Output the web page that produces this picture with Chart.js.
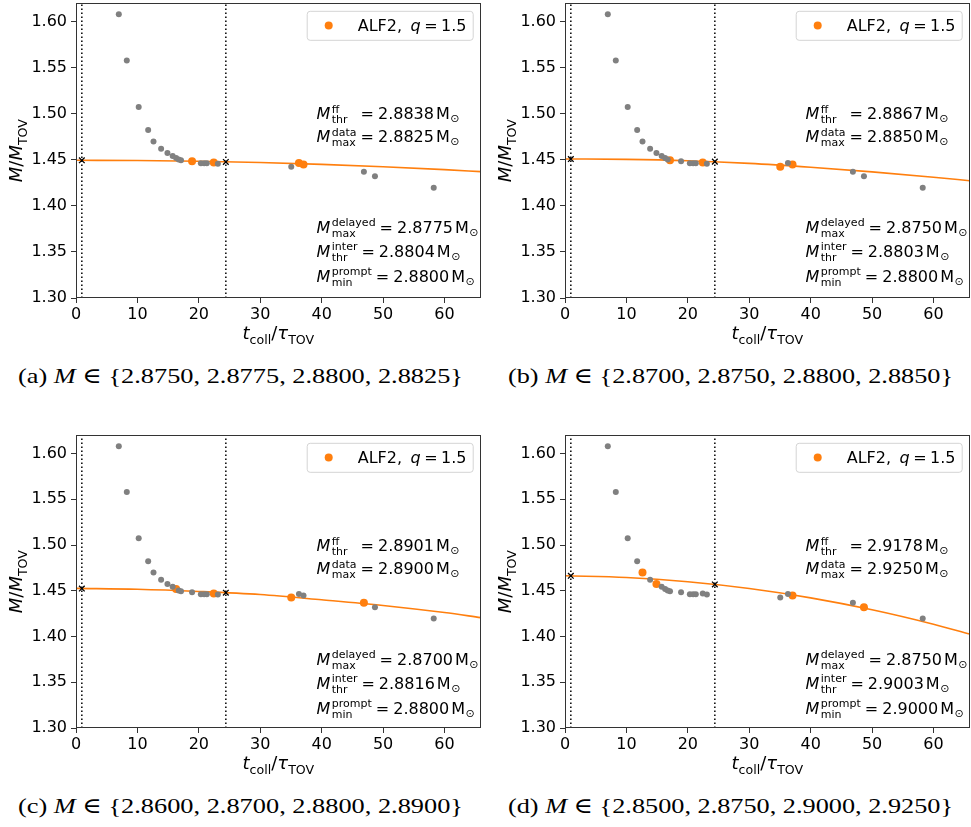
<!DOCTYPE html>
<html>
<head>
<meta charset="utf-8">
<script src="https://cdn.jsdelivr.net/npm/chart.js@4/dist/chart.umd.min.js"></script>
<style>
  html, body { margin: 0; padding: 0; background: #fff; overflow: hidden; width: 971px; height: 827px; }
  canvas.panel { position: absolute; }
  .cap { position: absolute; font-family: "Liberation Serif", "DejaVu Serif", serif; font-size: 22px;
         white-space: nowrap; color: #000; transform-origin: 0 50%; line-height: 26px; }
</style>
</head>
<body>
<canvas id="pa" class="panel"></canvas>
<canvas id="pb" class="panel"></canvas>
<canvas id="pc" class="panel"></canvas>
<canvas id="pd" class="panel"></canvas>
<div id="capa" class="cap"></div>
<div id="capb" class="cap"></div>
<div id="capc" class="cap"></div>
<div id="capd" class="cap"></div>
<script>
// collapse times t_coll / tau_TOV and mass ratios M / M_TOV of every ALF2 q=1.5 run
const tColl = [6.97, 8.27, 10.21, 11.75, 12.62, 13.86, 14.89, 15.74, 16.30, 16.72, 17.10, 18.90,
               20.33, 20.87, 21.30, 22.43, 23.10, 35.05, 36.30, 37.05, 46.88, 48.68, 58.25];
const massRatio = [1.6080, 1.5580, 1.5075, 1.4824, 1.4700, 1.4621, 1.4574, 1.4543, 1.4520, 1.4504, 1.4495, 1.4484,
                   1.4462, 1.4462, 1.4463, 1.4471, 1.4459, 1.4426, 1.4466, 1.4449, 1.4370, 1.4321, 1.4196];

// runs belonging to the mass set of each panel (indices into the arrays above)
const selA = [11, 15, 18, 19];
const selB = [10, 15, 17, 19];
const selC = [8, 15, 17, 20];
const selD = [4, 6, 19, 21];

// fitted curve, sampled along t_coll / tau_TOV
const fitX = [0, 10, 20, 30, 40, 50, 60, 65.9];
const fitA = [1.4495, 1.4493, 1.4485, 1.4471, 1.4451, 1.4425, 1.4394, 1.4372];
const fitB = [1.4510, 1.4505, 1.4490, 1.4462, 1.4420, 1.4370, 1.4312, 1.4273];
const fitC = [1.4527, 1.4517, 1.4493, 1.4459, 1.4402, 1.4340, 1.4262, 1.4207];
const fitD = [1.4665, 1.4646, 1.4599, 1.4525, 1.4423, 1.4293, 1.4135, 1.4028];

// regime boundaries (dotted lines) and the fit value where each crosses the curve
const boundX = [0.95, 24.4];
const crossA = [1.4495, 1.4477];
const crossB = [1.4509, 1.4481];
const crossC = [1.4525, 1.4479];
const crossD = [1.4664, 1.4569];

const xTicks = [0, 10, 20, 30, 40, 50, 60];
const yTicks = [1.30, 1.35, 1.40, 1.45, 1.50, 1.55, 1.60];
const xRange = [0, 65.9];
const yRange = [1.30, 1.62];

// threshold masses printed in each panel
const thrFF      = ['2.8838', '2.8867', '2.8901', '2.9178'];
const maxData    = ['2.8825', '2.8850', '2.8900', '2.9250'];
const maxDelayed = ['2.8775', '2.8750', '2.8700', '2.8750'];
const thrInter   = ['2.8804', '2.8803', '2.8816', '2.9003'];
const minPrompt  = ['2.8800', '2.8800', '2.8800', '2.9000'];

// sub-figure captions
const capLabels = ['(a)', '(b)', '(c)', '(d)'];
const capMasses = [
  ['2.8750', '2.8775', '2.8800', '2.8825'],
  ['2.8700', '2.8750', '2.8800', '2.8850'],
  ['2.8600', '2.8700', '2.8800', '2.8900'],
  ['2.8500', '2.8750', '2.9000', '2.9250']
];
const legendLabel = 'ALF2,';
const legendQ = '1.5';

const ORANGE = '#ff7f0e';
const GRAY = '#808080';
const FONT = '"DejaVu Sans", sans-serif';

function setFont(ctx, size, italic) {
  ctx.font = (italic ? 'oblique ' : '') + size + 'px ' + FONT;
}
function run(ctx, x, y, txt, size, italic) {
  setFont(ctx, size, italic);
  ctx.fillText(txt, x, y);
  return ctx.measureText(txt).width;
}
function widthOf(ctx, txt, size, italic) {
  setFont(ctx, size, italic);
  return ctx.measureText(txt).width;
}
// italic symbol with stacked super/subscript; returns advance
function scripted(ctx, x, y, base, sup, sub, phantom) {
  const w = run(ctx, x, y, base, 16, true) + 1.5;
  const sx = x + w;
  const ws = sup ? widthOf(ctx, sup, 11, false) : 0;
  const wb = sub ? widthOf(ctx, sub, 11, false) : 0;
  const wp = phantom ? widthOf(ctx, phantom, 11, false) : 0;
  setFont(ctx, 11, false);
  if (sup) ctx.fillText(sup, sx, y - 6.5);
  if (sub) ctx.fillText(sub, sx, y + 4);
  return w + Math.max(ws, wb, wp);
}
function massLine(ctx, x, y, sup, sub, val, phantom) {
  let cx = x + scripted(ctx, x, y, 'M', sup, sub, phantom) + 4;
  cx += run(ctx, cx, y, '=', 16, false) + 4;
  cx += run(ctx, cx, y, val, 16, false) + 2;
  cx += run(ctx, cx, y, 'M', 16, false) + 0.5;
  run(ctx, cx, y + 3, '\u2299', 11, false);
}

function makePanel(k, fit, sel, cross) {
  const a = chartRefs[k];
  const points = tColl.map((t, i) => ({ x: t, y: massRatio[i] }));
  const hi = sel.map(i => points[i]);
  const rest = points.filter((p, i) => sel.indexOf(i) < 0);

  const annot = {
    id: 'annot' + k,
    afterDatasetsDraw(chart) {
      const ctx = chart.ctx;
      const ca = chart.chartArea;
      const L = ca.left, R = ca.right, T = ca.top, B = ca.bottom;
      ctx.save();
      // frame
      ctx.strokeStyle = '#333';
      ctx.lineWidth = 1;
      ctx.strokeRect(Math.round(L) + 0.5, Math.round(T) + 0.5, Math.round(R - L) - 1, Math.round(B - T) - 1);

      ctx.fillStyle = '#000';
      ctx.textBaseline = 'alphabetic';
      ctx.textAlign = 'left';
      const mx = L + 240.5;
      massLine(ctx, mx, T + 116, 'ff', 'thr', thrFF[k], 'data');
      massLine(ctx, mx, T + 139, 'data', 'max', maxData[k]);
      massLine(ctx, mx, T + 229.3, 'delayed', 'max', maxDelayed[k]);
      massLine(ctx, mx, T + 253.5, 'inter', 'thr', thrInter[k]);
      massLine(ctx, mx, T + 278.5, 'prompt', 'min', minPrompt[k]);

      // legend
      const bx = R - 174, by = T + 7.5, bw = 166, bh = 29;
      ctx.beginPath();
      ctx.roundRect(bx + 0.5, by + 0.5, bw, bh, 3);
      ctx.fillStyle = 'rgba(255,255,255,0.8)';
      ctx.fill();
      ctx.strokeStyle = '#d4d4d4';
      ctx.lineWidth = 1;
      ctx.stroke();
      ctx.beginPath();
      ctx.arc(R - 152, T + 22.3, 4, 0, Math.PI * 2);
      ctx.fillStyle = ORANGE;
      ctx.fill();
      ctx.fillStyle = '#000';
      let lx = R - 123;
      const ly = T + 27.3;
      lx += run(ctx, lx, ly, legendLabel, 16, false) + 8.5;
      lx += run(ctx, lx, ly, 'q', 16, true) + 3.5;
      lx += run(ctx, lx, ly, '=', 16, false) + 3.5;
      run(ctx, lx, ly, legendQ, 16, false);

      // x axis title
      const xt = [['t', 18, true, 0], ['coll', 12.6, false, 4.5], ['/', 18, false, 0], ['\u03c4', 18, true, 0], ['TOV', 12.6, false, 4.5]];
      let tw = 0;
      xt.forEach(p => { tw += widthOf(ctx, p[0], p[1], p[2]); });
      let tx = (L + R) / 2 - tw / 2;
      xt.forEach(p => { tx += run(ctx, tx, B + 41 + p[3], p[0], p[1], p[2]); });

      // y axis title
      const yt = [['M', 18, true, 0], ['/', 18, false, 0], ['M', 18, true, 0], ['TOV', 12.6, false, 4.5]];
      let yw = 0;
      yt.forEach(p => { yw += widthOf(ctx, p[0], p[1], p[2]); });
      ctx.translate(L - 54, (T + B) / 2);
      ctx.rotate(-Math.PI / 2);
      let ty = -yw / 2;
      yt.forEach(p => { ty += run(ctx, ty, p[3], p[0], p[1], p[2]); });
      ctx.restore();
    }
  };

  const tickFont = { family: FONT, size: 16 };
  return new Chart(document.getElementById(a.id), {
    type: 'scatter',
    data: {
      datasets: [
        { data: boundX.map((x, i) => ({ x: x, y: cross[i] })), pointStyle: 'crossRot', pointRadius: 4,
          borderColor: '#000', backgroundColor: '#000', borderWidth: 1.3, order: 0 },
        { data: [{ x: boundX[0], y: yRange[0] }, { x: boundX[0], y: yRange[1] }], showLine: true, pointRadius: 0,
          borderColor: '#000', borderWidth: 1.5, borderDash: [1.5, 2.5], order: 1 },
        { data: [{ x: boundX[1], y: yRange[0] }, { x: boundX[1], y: yRange[1] }], showLine: true, pointRadius: 0,
          borderColor: '#000', borderWidth: 1.5, borderDash: [1.5, 2.5], order: 1 },
        { data: rest, pointRadius: 3, backgroundColor: GRAY, borderWidth: 0, order: 2 },
        { data: hi, pointRadius: 4, backgroundColor: ORANGE, borderWidth: 0, order: 3 },
        { data: fitX.map((x, i) => ({ x: x, y: fit[i] })), showLine: true, pointRadius: 0,
          borderColor: ORANGE, borderWidth: 1.6, cubicInterpolationMode: 'monotone', order: 4 }
      ]
    },
    options: {
      responsive: false,
      animation: false,
      devicePixelRatio: 1,
      events: [],
      layout: { padding: 0 },
      plugins: { legend: { display: false }, tooltip: { enabled: false } },
      scales: {
        x: {
          type: 'linear', min: xRange[0], max: xRange[1],
          afterBuildTicks: s => { s.ticks = xTicks.map(v => ({ value: v })); },
          afterFit: s => { s.height = 52; s.paddingLeft = 0; s.paddingRight = 0; },
          ticks: { font: tickFont, color: '#000', padding: 2, maxRotation: 0, autoSkip: false,
                   callback: v => String(v) },
          grid: { drawOnChartArea: false, drawTicks: true, tickLength: 5, tickColor: '#333', tickWidth: 1 },
          border: { display: false }
        },
        y: {
          type: 'linear', min: yRange[0], max: yRange[1],
          afterBuildTicks: s => { s.ticks = yTicks.map(v => ({ value: v })); },
          afterFit: s => { s.width = 76; s.paddingTop = 0; s.paddingBottom = 0; },
          ticks: { font: tickFont, color: '#000', padding: 4, autoSkip: false,
                   callback: v => Number(v).toFixed(2) },
          grid: { drawOnChartArea: false, drawTicks: true, tickLength: 5, tickColor: '#333', tickWidth: 1 },
          border: { display: false }
        }
      }
    },
    plugins: [annot]
  });
}

const chartRefs = [
  { id: 'pa', left: 0, top: -2, h: 352 },
  { id: 'pb', left: 489, top: -2, h: 352 },
  { id: 'pc', left: 0, top: 430, h: 350 },
  { id: 'pd', left: 489, top: 430, h: 350 }
];
chartRefs.forEach(r => {
  const c = document.getElementById(r.id);
  c.width = 486; c.height = r.h;
  c.style.left = r.left + 'px'; c.style.top = r.top + 'px';
  c.style.width = '486px'; c.style.height = r.h + 'px';
});

makePanel(0, fitA, selA, crossA);
makePanel(1, fitB, selB, crossB);
makePanel(2, fitC, selC, crossC);
makePanel(3, fitD, selD, crossD);

// captions
const capPos = [[18, 363], [508, 363], [18, 793], [508, 793]];
['capa', 'capb', 'capc', 'capd'].forEach((id, k) => {
  const el = document.getElementById(id);
  el.innerHTML = capLabels[k] + ' <i>M</i> \u2208 {' + capMasses[k].join(', ') + '}';
  el.style.left = capPos[k][0] + 'px';
  el.style.top = capPos[k][1] + 'px';
  const w = el.getBoundingClientRect().width;
  el.style.transform = 'scaleX(' + (445 / w) + ')';
});
</script>
</body>
</html>
